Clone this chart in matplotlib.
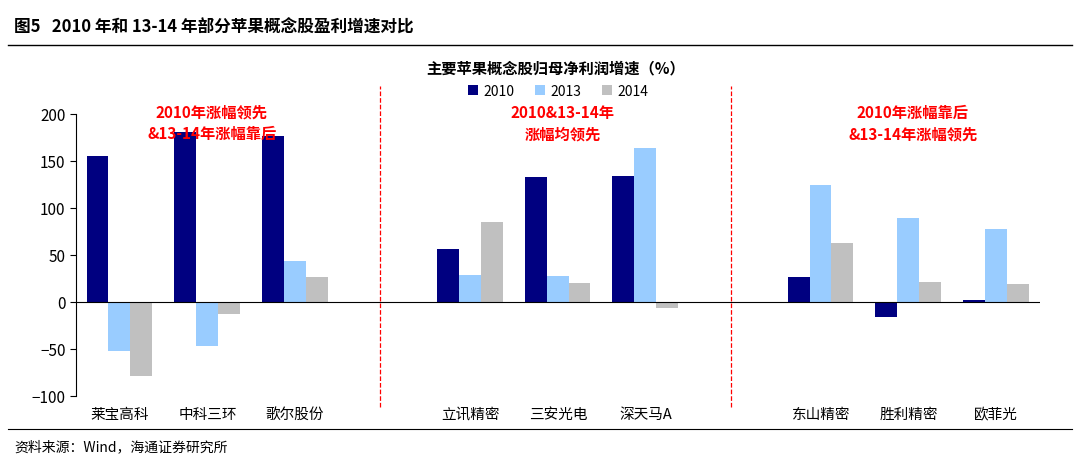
import matplotlib
matplotlib.use("Agg")
import matplotlib.pyplot as plt
import numpy as np
plt.rcParams['font.family'] = ['Noto Sans CJK SC']

slots = ["莱宝高科", "中科三环", "歌尔股份", "", "立讯精密", "三安光电", "深天马A", "", "东山精密", "胜利精密", "欧菲光"]
v2010 = [155, 181, 177, np.nan, 56, 133, 134, np.nan, 27, -16, 2]
v2013 = [-52, -47, 44, np.nan, 29, 28, 164, np.nan, 124, 89, 78]
v2014 = [-79, -13, 27, np.nan, 85, 20, -6, np.nan, 63, 21, 19]
series = [("2010", v2010, "#000080"), ("2013", v2013, "#99CCFF"), ("2014", v2014, "#C0C0C0")]

W, H = 1080, 464
fig = plt.figure(figsize=(W/100, H/100), dpi=100)
ax = fig.add_axes([76/W, 1-397/H, 964/W, 282/H])
x = np.arange(len(slots))
w = 0.25
for i, (name, vals, c) in enumerate(series):
    ax.bar(x - 0.38 + w/2 + i*w, vals, w, color=c, label=name)
ax.set_xlim(-0.5, len(slots)-0.5)
ax.set_ylim(-100, 200)
ax.set_yticks(range(-100, 201, 50))
ax.tick_params(axis='y', labelsize=11, length=4)
ax.set_xticks(x)
ax.set_xticklabels(slots, fontsize=10.5)
ax.tick_params(axis='x', length=0, pad=8)
for s in ['top', 'right', 'bottom']:
    ax.spines[s].set_visible(False)
ax.axhline(0, color='black', lw=0.8)
for xv in [3, 7]:
    ax.plot([xv-0.03, xv-0.03], [-112, 230], color='red', ls='--', lw=0.9, clip_on=False)
ax.legend(loc='upper center', bbox_to_anchor=(0.5, 1.15), ncol=3, frameon=False, fontsize=10,
          handlelength=0.7, handleheight=0.7, columnspacing=1.5, handletextpad=0.4)
kw = dict(color='red', fontweight='bold', fontsize=11, ha='center', va='center', linespacing=1.45)
ax.text(1.05, 191, "2010年涨幅领先\n&13-14年涨幅靠后", **kw)
ax.text(5.05, 191, "2010&13-14年\n涨幅均领先", **kw)
ax.text(9.05, 191, "2010年涨幅靠后\n&13-14年涨幅领先", **kw)
fig.text(556/W, 1-68/H, "主要苹果概念股归母净利润增速（%）", fontsize=11, fontweight='bold', ha='center', va='center')
fig.text(14/W, 1-28/H, "图5   2010 年和 13-14 年部分苹果概念股盈利增速对比", fontsize=12, fontweight='bold', ha='left', va='center')
fig.add_artist(plt.Line2D([8/W, 1072/W], [1-46/H, 1-46/H], color='black', lw=1))
fig.add_artist(plt.Line2D([8/W, 1072/W], [1-430/H, 1-430/H], color='black', lw=0.8))
fig.text(14/W, 1-447/H, "资料来源：Wind，海通证券研究所", fontsize=10, ha='left', va='center')
fig.savefig("out.png", dpi=100)
